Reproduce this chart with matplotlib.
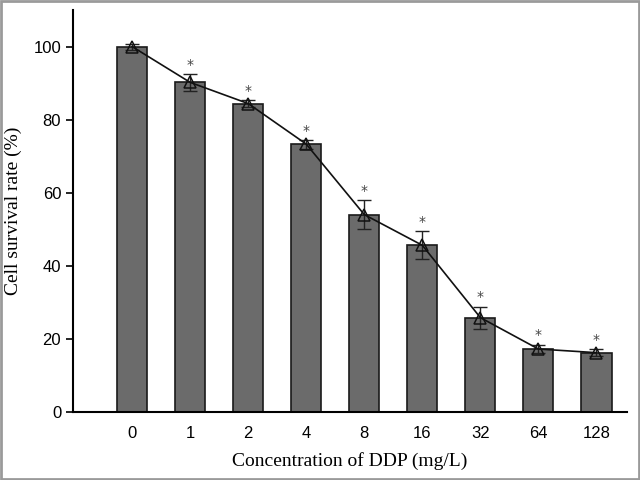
import numpy as np
import matplotlib
matplotlib.use("Agg")
import matplotlib.pyplot as plt
from matplotlib.patches import Rectangle

# concentracoes de DDP e taxa de sobrevivencia
conc = ["0", "1", "2", "4", "8", "16", "32", "64", "128"]
survival = [100, 90.2, 84.4, 73.3, 54.0, 45.6, 25.8, 17.2, 16.2]
erro = [0.8, 2.3, 1.0, 1.2, 4.0, 3.8, 3.0, 1.2, 1.0]
signif = [False, True, True, True, True, True, True, True, True]

fig = plt.figure(figsize=(6.4, 4.8), dpi=100)
ax = fig.add_axes([0.114, 0.142, 0.866, 0.837])

x = np.arange(len(conc))
ax.bar(x, survival, width=0.52, color="#6b6b6b", edgecolor="#1a1a1a", linewidth=1.2)
ax.errorbar(x, survival, yerr=erro, fmt="none", ecolor="#222222", elinewidth=1, capsize=5, capthick=1)
ax.plot(x, survival, color="#111111", linewidth=1.2, marker="^", markersize=8,
        markerfacecolor="none", markeredgecolor="#111111", markeredgewidth=1.1)

for i in x:
    if signif[i]:
        ax.text(i, survival[i] + erro[i] + 0.6, "*", ha="center", va="bottom",
                fontsize=10, color="#444444", family="DejaVu Sans")

ax.set_xlim(-1.02, 8.53)
ax.set_ylim(0, 110)
ax.set_yticks([0, 20, 40, 60, 80, 100])
ax.set_xticks(x)
ax.set_xticklabels(conc)
ax.spines["top"].set_visible(False)
ax.spines["right"].set_visible(False)
ax.spines["left"].set_linewidth(1.5)
ax.spines["bottom"].set_linewidth(1.5)
ax.tick_params(axis="x", length=0, pad=10)
ax.tick_params(axis="y", direction="out", length=5, width=1.2)
for lab in ax.get_xticklabels() + ax.get_yticklabels():
    lab.set_family("Liberation Sans")
    lab.set_fontsize(12)

ax.set_xlabel("Concentration of DDP (mg/L)", family="Liberation Serif", fontsize=14, labelpad=8)
ax.set_ylabel("Cell survival rate (%)", family="Liberation Serif", fontsize=14, labelpad=8)

# moldura cinza em volta da figura
fig.patches.append(Rectangle((0.002, 0.002), 0.996, 0.996, transform=fig.transFigure,
                             fill=False, edgecolor="#9a9a9a", linewidth=2))

fig.savefig("out.png", dpi=100)
